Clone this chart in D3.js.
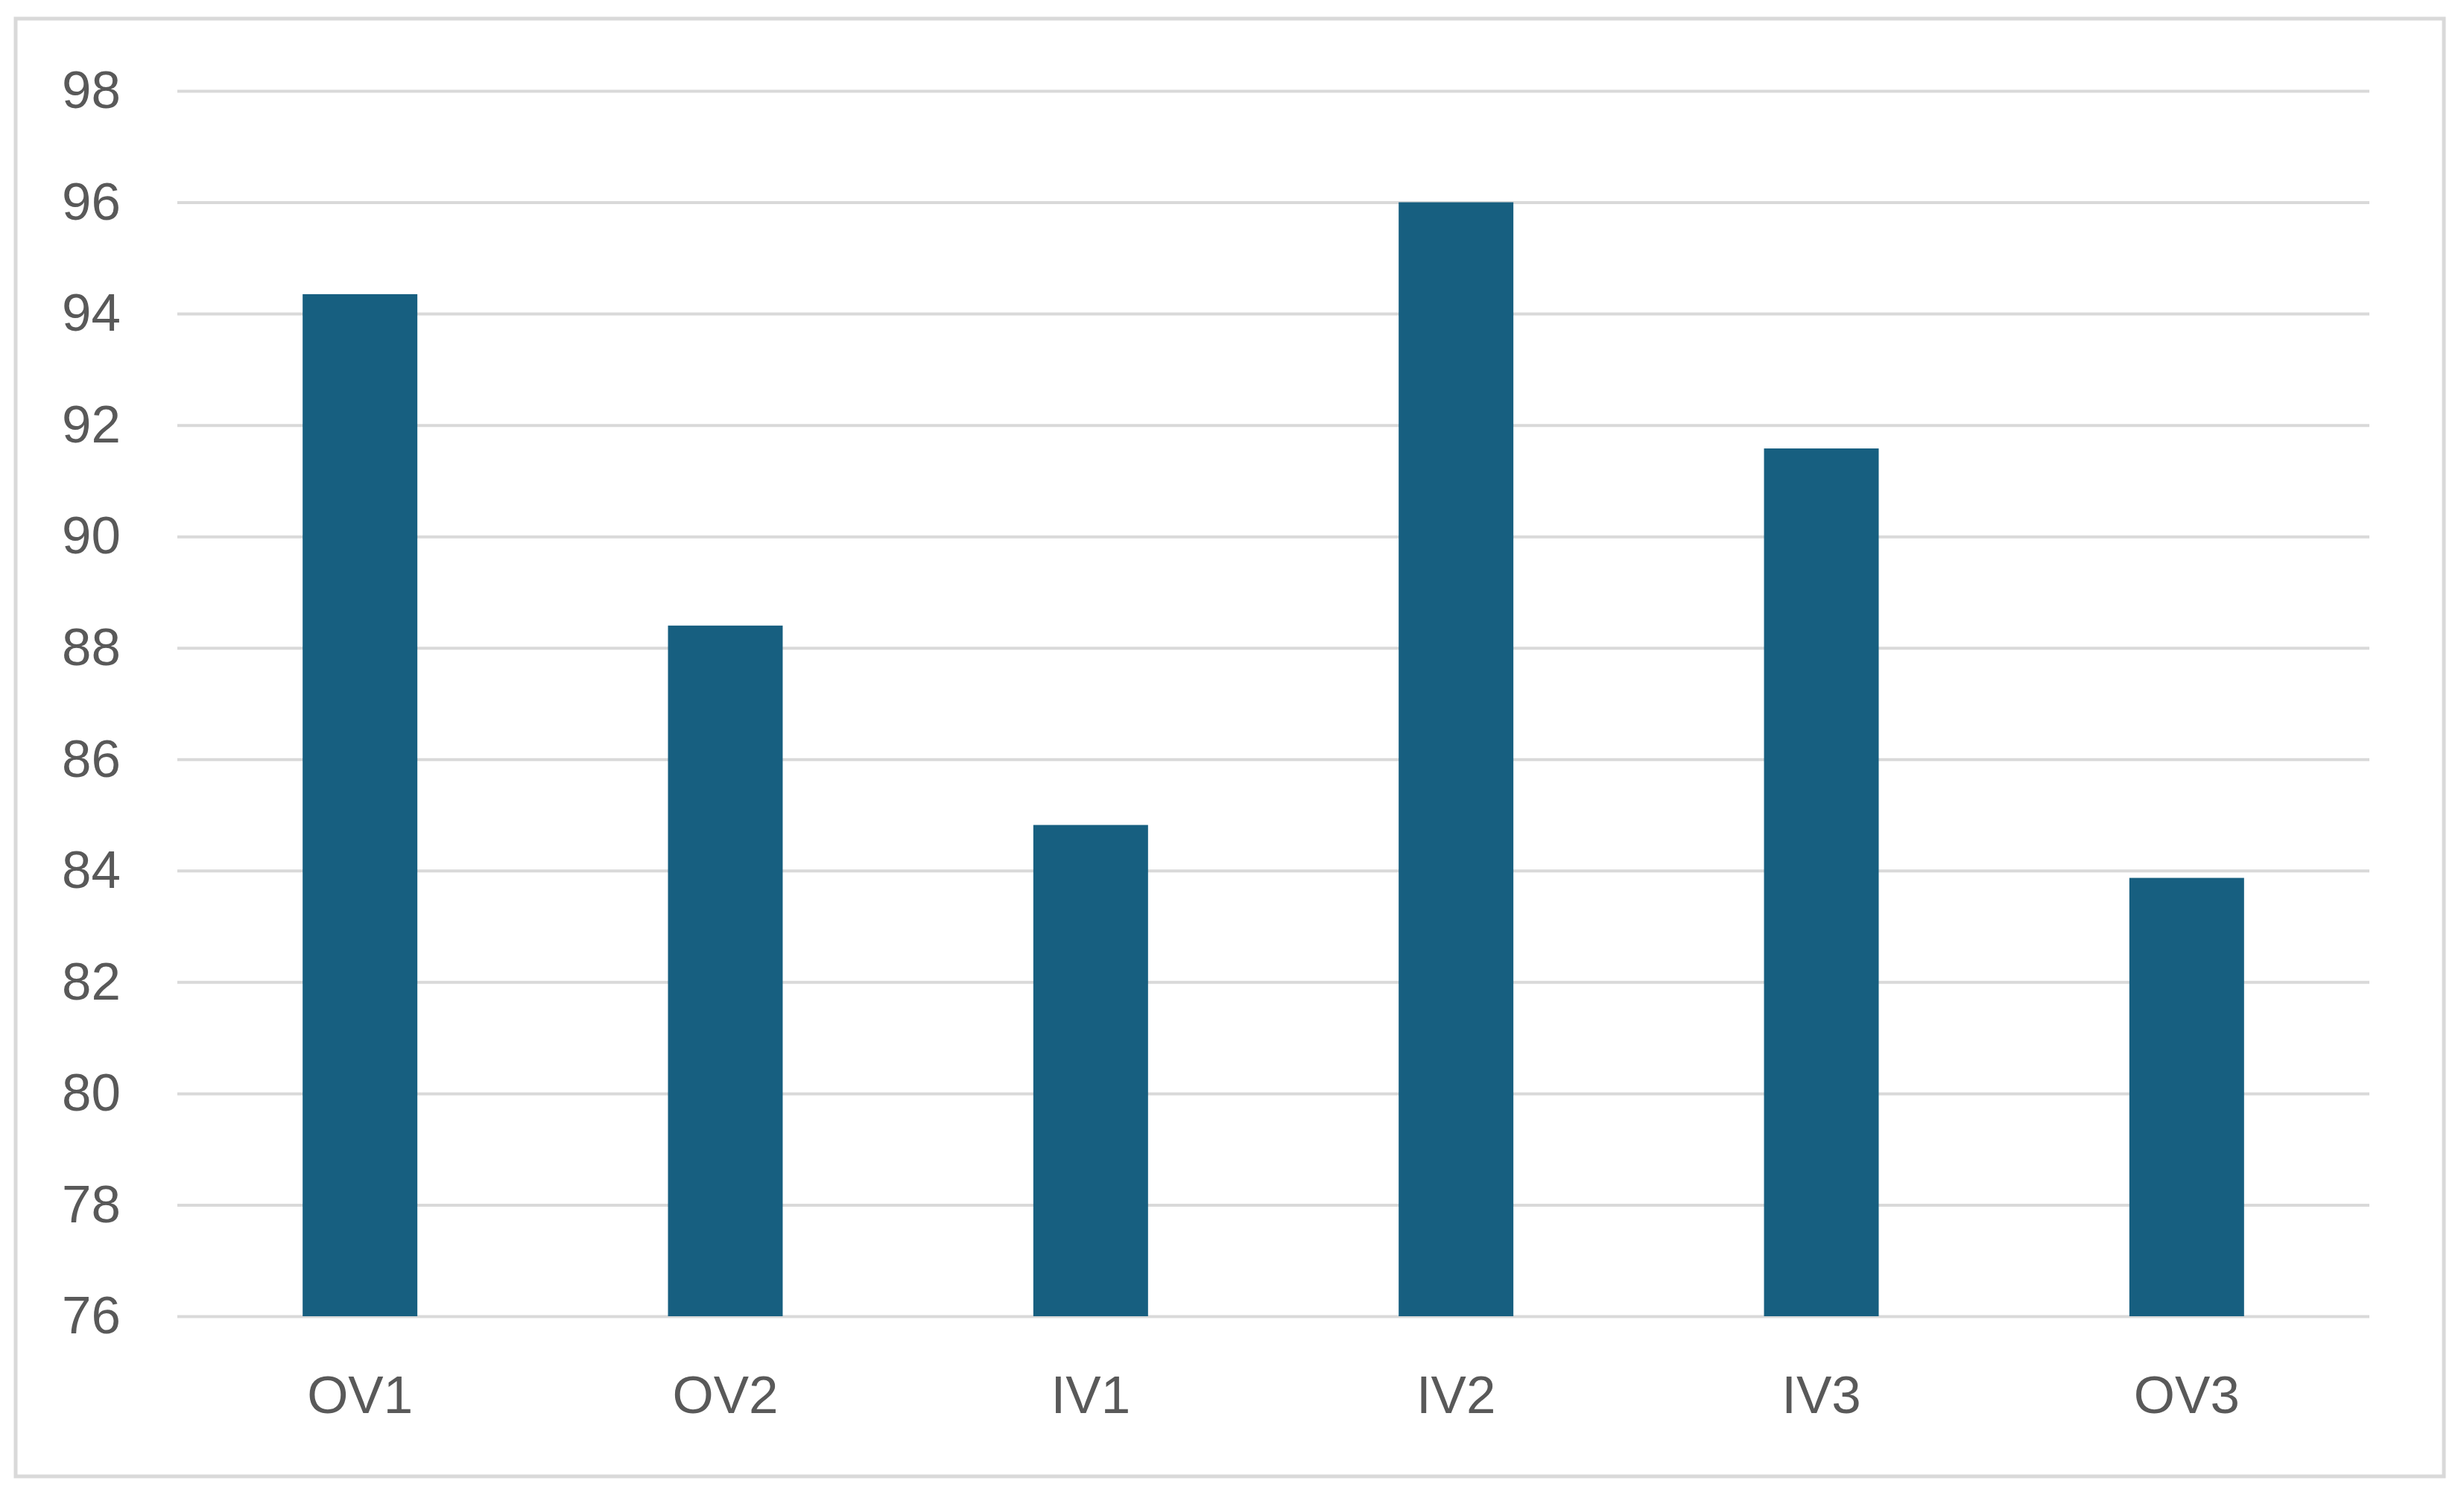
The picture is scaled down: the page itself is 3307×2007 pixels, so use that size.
<!DOCTYPE html>
<html>
<head>
<meta charset="utf-8">
<script src="https://cdn.jsdelivr.net/npm/d3@7"></script>
<style>
  body { margin: 0; background: #fff; }
  svg text { font-family: "Liberation Sans", Arial, sans-serif; fill: #595959; }
</style>
</head>
<body>
<div id="chart"></div>
<script>
// data
const categories = ["OV1", "OV2", "IV1", "IV2", "IV3", "OV3"];
const values = [94.35, 88.4, 84.82, 96.0, 91.58, 83.87];
const yTicks = [76, 78, 80, 82, 84, 86, 88, 90, 92, 94, 96, 98];

const W = 3307, H = 2007;
const margin = {left: 238, right: 127, top: 122, bottom: 240};

const svg = d3.select("#chart").append("svg")
    .attr("width", W)
    .attr("height", H);

// chart frame
svg.append("rect")
    .attr("x", 21).attr("y", 25)
    .attr("width", 3259).attr("height", 1957)
    .attr("fill", "#fff")
    .attr("stroke", "#d9d9d9")
    .attr("stroke-width", 5);

const x = d3.scaleBand()
    .domain(categories)
    .range([margin.left, W - margin.right])
    .paddingInner(0.686)
    .paddingOuter(0.343);

const y = d3.scaleLinear()
    .domain([76, 98])
    .range([H - margin.bottom, margin.top]);

// gridlines + y labels
const yAxis = svg.append("g")
    .attr("transform", `translate(${margin.left},0)`)
    .call(d3.axisLeft(y)
        .tickValues(yTicks)
        .tickSize(-(W - margin.left - margin.right))
        .tickPadding(76)
        .tickFormat(d3.format("d")));
yAxis.select(".domain").remove();
yAxis.selectAll("line").attr("stroke", "#d9d9d9").attr("stroke-width", 4);
yAxis.selectAll("text")
    .attr("font-size", 71)
    .style("font-family", '"Liberation Sans", Arial, sans-serif')
    .attr("fill", "#595959");

// bars
svg.append("g")
    .selectAll("rect")
    .data(categories)
    .join("rect")
    .attr("x", d => x(d))
    .attr("width", x.bandwidth())
    .attr("y", (d, i) => y(values[i]))
    .attr("height", (d, i) => y(76) - y(values[i]))
    .attr("fill", "#175f80");

// x labels
const xAxis = svg.append("g")
    .attr("transform", `translate(0,${H - margin.bottom})`)
    .call(d3.axisBottom(x).tickSize(0).tickPadding(80));
xAxis.select(".domain").remove();
xAxis.selectAll("text")
    .attr("font-size", 71)
    .style("font-family", '"Liberation Sans", Arial, sans-serif')
    .attr("fill", "#595959");
</script>
</body>
</html>
